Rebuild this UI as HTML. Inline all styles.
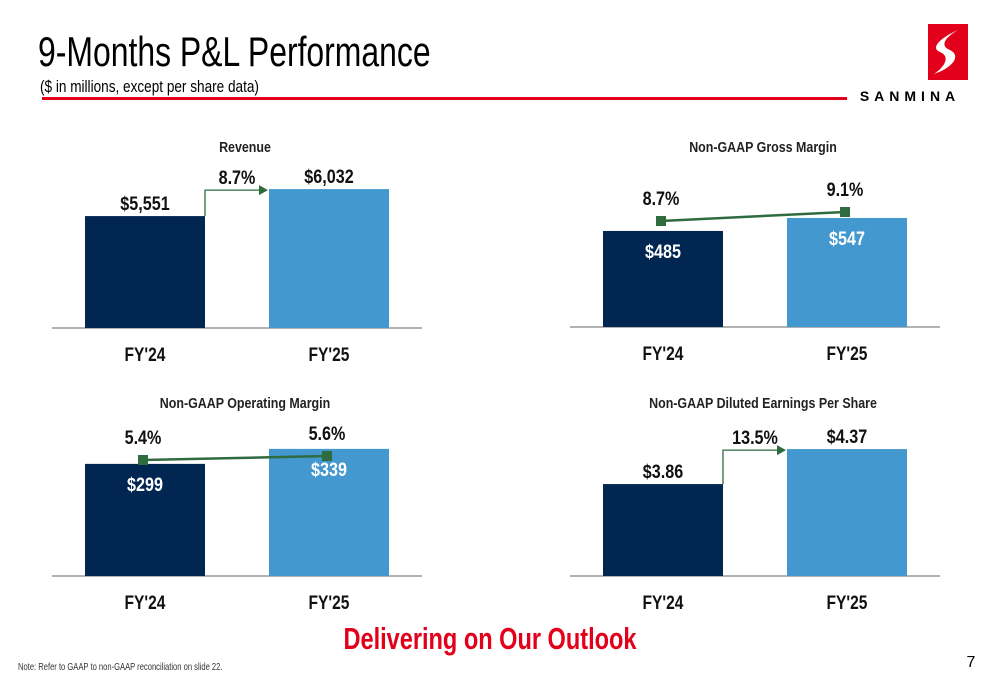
<!DOCTYPE html>
<html><head><meta charset="utf-8"><style>
body{margin:0;width:1000px;height:685px;background:#fff;overflow:hidden;}
svg text{font-family:"Liberation Sans Narrow","Liberation Sans",sans-serif;}
</style></head><body>
<svg id="s" width="1000" height="685" viewBox="0 0 1000 685" xmlns="http://www.w3.org/2000/svg">
<text x="38" y="66" font-size="42" fill="#000" transform="scale(0.76,1)" transform-origin="38 66">9-Months P&amp;L Performance</text>
<text x="40" y="92" font-size="17" fill="#000" transform="scale(0.80,1)" transform-origin="40 92">($ in millions, except per share data)</text>
<rect x="42" y="97" width="805" height="3" fill="#e3001b"/>
<g>
<rect x="928" y="24" width="40" height="56" fill="#e3001b"/>
<path d="M958 30 C940 38 930 48 940 52 C950 56 946 66 934 74 C952 68 962 56 950 50 C940 46 944 38 958 30Z" fill="#fff"/>
<text x="910" y="101" font-size="14" font-weight="bold" text-anchor="middle" letter-spacing="5" fill="#000" style="font-family:'Liberation Sans',sans-serif">SANMINA</text>
</g>
<g id="charts"></g>
<text x="490" y="649" font-size="31" font-weight="bold" fill="#e3001b" text-anchor="middle" transform="scale(0.76,1)" transform-origin="490 649">Delivering on Our Outlook</text>
<text x="18" y="670" font-size="10" fill="#333" transform="scale(0.76,1)" transform-origin="18 670">Note: Refer to GAAP to non-GAAP reconciliation on slide 22.</text>
<text x="971" y="667" font-size="16" fill="#000" text-anchor="middle">7</text>
</svg>
<script>
const categories=["FY'24","FY'25"];
const revenueValues=[5551,6032];
const revenueLabels=["$5,551","$6,032"];
const revenueGrowth="8.7%";
const grossValues=[485,547];
const grossLabels=["$485","$547"];
const grossMargin=[8.7,9.1];
const grossMarginLabels=["8.7%","9.1%"];
const opValues=[299,339];
const opLabels=["$299","$339"];
const opMargin=[5.4,5.6];
const opMarginLabels=["5.4%","5.6%"];
const epsValues=[3.86,4.37];
const epsLabels=["$3.86","$4.37"];
const epsGrowth="13.5%";

const NS="http://www.w3.org/2000/svg";
const root=document.getElementById('charts');
const colors=["#012652","#4298cf"];
function el(tag,attrs,parent,txt){const e=document.createElementNS(NS,tag);for(const k in attrs)e.setAttribute(k,attrs[k]);if(txt!==undefined)e.textContent=txt;(parent||root).appendChild(e);return e;}
function txt(x,y,s,size,fill,parent,name,sx){const t=el('text',{x:x,y:y,'font-size':size,'font-weight':'bold',fill:fill,'text-anchor':'middle',transform:'scale('+sx+',1)','transform-origin':x+' '+y},parent,s);


return t;}

function panel(o){
  const g=el('g',{});
  
  
  const base=o.base, x0=o.x0;
  const bx=[x0+33,x0+217], bw=120;
  const yS=v=>base-(v-o.dmin)*o.k;
  txt(x0+193,base-o.titleOff,o.title,15,"#222",g,'chart-title',0.83);
  const axis=el('line',{x1:x0,x2:x0+370,y1:base,y2:base,stroke:'#999','stroke-width':1.5},g);
  
  
  const tops=[];
  o.values.forEach((v,i)=>{
    const y=yS(v);tops.push(y);
    const r=el('rect',{x:bx[i],y:y,width:bw,height:base-y,fill:colors[i]},g);
    
    
    txt(bx[i]+bw/2,base+33,categories[i],19,"#111",g,'x-tick-label',0.82);
  });
  if(o.growth){
    const ay=tops[1]+1;
    const p=el('path',{d:`M${bx[0]+bw} ${tops[0]} V${ay} H${bx[1]-8}`,fill:'none',stroke:'#2e6b3e','stroke-width':1.3},g);
    
    
    const h=el('path',{d:`M${bx[1]-10} ${ay-5} L${bx[1]-1} ${ay} L${bx[1]-10} ${ay+5}Z`,fill:'#2e6b3e'},g);
    
    
    txt((bx[0]+bw+bx[1])/2,ay-6,o.growth,19,"#111",g,'growth-label',0.85);
    o.values.forEach((v,i)=>txt(bx[i]+bw/2,tops[i]-6,o.labels[i],19,"#111",g,'value-label',0.85));
  } else {
    const mS=m=>o.mBase-(m-o.margin[0])*o.mk;
    const pts=o.margin.map((m,i)=>[bx[i]+bw/2-2,mS(m)]);
    const l=el('line',{x1:pts[0][0],y1:pts[0][1],x2:pts[1][0],y2:pts[1][1],stroke:'#2e6b3e','stroke-width':2.5},g);
    
    
    pts.forEach((p,i)=>{
      const m=el('rect',{x:p[0]-5,y:p[1]-5,width:10,height:10,fill:'#2e6b3e'},g);
      
      
      txt(p[0],p[1]-16,o.marginLabels[i],19,"#111",g,'margin-label',0.85);
      txt(bx[i]+bw/2,tops[i]+27,o.labels[i],19,"#fff",g,'value-label',0.85);
    });
  }
}
panel({name:'revenue-chart',title:'Revenue',x0:52,base:328,titleOff:176,values:revenueValues,labels:revenueLabels,dmin:3556,k:0.0561,growth:revenueGrowth});
panel({name:'gross-margin-chart',title:'Non-GAAP Gross Margin',x0:570,base:327,titleOff:175,values:grossValues,labels:grossLabels,dmin:27,k:0.2097,margin:grossMargin,marginLabels:grossMarginLabels,mBase:221,mk:22.5});
panel({name:'operating-margin-chart',title:'Non-GAAP Operating Margin',x0:52,base:576,titleOff:168,values:opValues,labels:opLabels,dmin:0,k:0.375,margin:opMargin,marginLabels:opMarginLabels,mBase:460,mk:20});
panel({name:'eps-chart',title:'Non-GAAP Diluted Earnings Per Share',x0:570,base:576,titleOff:168,values:epsValues,labels:epsLabels,dmin:2.52,k:68.6,growth:epsGrowth});
</script>
</body></html>
